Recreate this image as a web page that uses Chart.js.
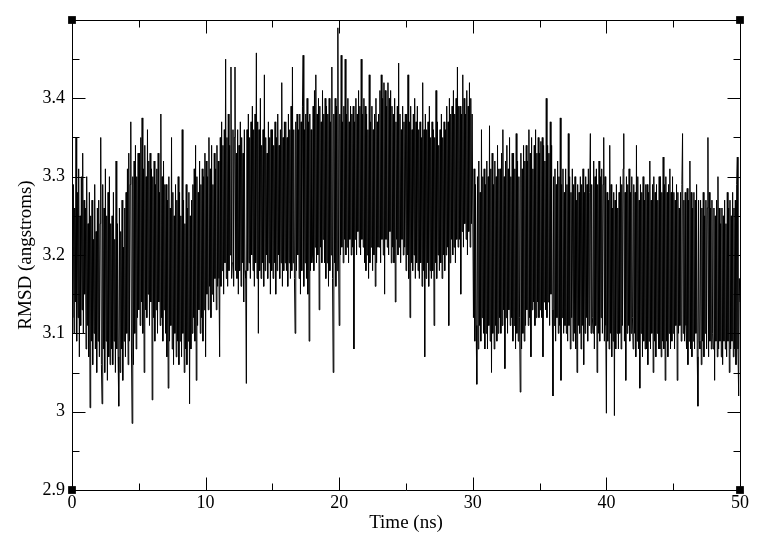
<!DOCTYPE html>
<html><head><meta charset="utf-8">
<script src="https://cdn.jsdelivr.net/npm/chart.js@4"></script>
<style>html,body{margin:0;padding:0;background:#fff}canvas{display:block}</style>
</head><body>
<canvas id="c" width="767" height="545"></canvas>
<script>
const startTime = 0;
const timeStep = 0.05;
const rmsd = [
3.21,3.12,3.29,3.10,3.26,3.14,3.35,3.09,3.28,3.12,3.31,3.07,3.25,3.11,3.30,3.13,3.33,3.10,3.27,3.15,
3.26,3.08,3.30,3.11,3.24,3.07,3.28,3.005,3.25,3.09,3.27,3.06,3.22,3.10,3.29,3.08,3.23,3.05,3.26,3.09,
3.27,3.07,3.24,3.35,3.06,3.01,3.29,3.08,3.26,3.05,3.31,3.09,3.25,3.04,3.28,3.07,3.30,3.06,3.24,3.08,
3.25,3.06,3.28,3.09,3.22,3.05,3.32,3.08,3.24,3.07,3.007,3.26,3.05,3.23,3.08,3.27,3.04,3.21,3.09,3.26,
3.07,3.28,3.10,3.31,3.06,3.33,3.09,3.29,3.37,3.08,2.985,3.30,3.06,3.32,3.10,3.34,3.08,3.30,3.12,3.33,
3.13,3.33,3.11,3.35,3.14,3.375,3.10,3.31,3.05,3.34,3.13,3.30,3.12,3.36,3.15,3.32,3.11,3.33,3.14,3.31,
3.015,3.30,3.12,3.32,3.09,3.29,3.13,3.31,3.10,3.33,3.14,3.28,3.11,3.38,3.12,3.30,3.09,3.32,3.13,3.29,
3.10,3.29,3.07,3.27,3.03,3.30,3.09,3.26,3.11,3.35,3.08,3.28,3.06,3.25,3.10,3.29,3.07,3.27,3.09,3.30,
3.06,3.28,3.09,3.25,3.07,3.36,3.10,3.27,3.05,3.24,3.08,3.29,3.06,3.26,3.09,3.28,3.01,3.25,3.08,3.27,
3.10,3.29,3.12,3.31,3.09,3.34,3.04,3.30,3.11,3.28,3.13,3.32,3.10,3.29,3.12,3.31,3.09,3.30,3.13,3.33,
3.07,3.32,3.15,3.30,3.13,3.35,3.16,3.31,3.12,3.34,3.15,3.29,3.14,3.33,3.17,3.31,3.13,3.34,3.16,3.32,
3.17,3.07,3.35,3.16,3.37,3.18,3.34,3.15,3.36,3.19,3.45,3.17,3.35,3.16,3.38,3.18,3.34,3.20,3.44,3.17,
3.19,3.36,3.16,3.35,3.44,3.18,3.33,3.17,3.36,3.15,3.34,3.18,3.37,3.16,3.35,3.19,3.33,3.14,3.36,3.18,
3.17,3.036,3.36,3.18,3.38,3.19,3.35,3.17,3.37,3.20,3.39,3.18,3.36,3.16,3.38,3.19,3.458,3.17,3.37,3.10,
3.36,3.18,3.40,3.17,3.34,3.19,3.36,3.16,3.43,3.18,3.35,3.20,3.33,3.17,3.37,3.19,3.35,3.15,3.36,3.18,
3.36,3.17,3.34,3.19,3.37,3.15,3.35,3.18,3.38,3.20,3.34,3.17,3.36,3.19,3.42,3.16,3.35,3.18,3.37,3.19,
3.37,3.18,3.35,3.16,3.38,3.19,3.36,3.17,3.39,3.18,3.44,3.19,3.36,3.17,3.10,3.37,3.18,3.38,3.20,3.36,
3.17,3.38,3.15,3.37,3.18,3.39,3.455,3.16,3.36,3.19,3.38,3.17,3.40,3.15,3.37,3.09,3.38,3.18,3.36,3.19,
3.20,3.39,3.18,3.41,3.21,3.43,3.19,3.38,3.20,3.40,3.13,3.39,3.21,3.37,3.19,3.41,3.22,3.38,3.19,3.40,
3.17,3.39,3.19,3.38,3.16,3.40,3.18,3.37,3.20,3.44,3.17,3.05,3.38,3.19,3.40,3.16,3.39,3.18,3.49,3.20,
3.11,3.38,3.20,3.455,3.21,3.37,3.19,3.39,3.22,3.45,3.20,3.38,3.21,3.40,3.19,3.37,3.22,3.39,3.20,3.38,
3.21,3.39,3.08,3.37,3.22,3.40,3.20,3.38,3.23,3.41,3.21,3.39,3.20,3.45,3.22,3.38,3.21,3.40,3.19,3.39,
3.18,3.38,3.20,3.36,3.17,3.43,3.19,3.37,3.21,3.39,3.18,3.36,3.20,3.38,3.16,3.40,3.19,3.37,3.21,3.38,
3.21,3.41,3.19,3.43,3.22,3.40,3.20,3.42,3.15,3.41,3.22,3.39,3.21,3.42,3.20,3.40,3.23,3.41,3.19,3.39,
3.21,3.38,3.19,3.40,3.14,3.37,3.22,3.39,3.20,3.445,3.21,3.38,3.19,3.36,3.22,3.39,3.20,3.37,3.21,3.38,
3.18,3.38,3.20,3.43,3.17,3.37,3.12,3.39,3.19,3.36,3.18,3.38,3.20,3.40,3.17,3.37,3.19,3.39,3.18,3.36,
3.17,3.37,3.19,3.35,3.16,3.42,3.18,3.36,3.07,3.38,3.17,3.36,3.19,3.37,3.16,3.39,3.18,3.35,3.17,3.37,
3.18,3.36,3.11,3.35,3.19,3.41,3.17,3.37,3.20,3.34,3.18,3.36,3.19,3.38,3.17,3.35,3.20,3.37,3.18,3.36,
3.20,3.39,3.21,3.37,3.11,3.40,3.19,3.38,3.22,3.39,3.20,3.41,3.21,3.38,3.19,3.40,3.22,3.44,3.21,3.39,
3.22,3.39,3.15,3.38,3.23,3.43,3.21,3.40,3.24,3.38,3.22,3.41,3.20,3.39,3.23,3.42,3.21,3.40,3.24,3.38,
3.38,3.12,3.31,3.09,3.29,3.11,3.035,3.30,3.08,3.32,3.11,3.28,3.09,3.36,3.12,3.30,3.10,3.31,3.08,3.29,
3.10,3.32,3.08,3.30,3.11,3.365,3.09,3.31,3.05,3.33,3.10,3.29,3.08,3.32,3.11,3.30,3.09,3.34,3.10,3.31,
3.12,3.31,3.10,3.33,3.11,3.36,3.13,3.30,3.055,3.32,3.12,3.34,3.10,3.31,3.13,3.35,3.11,3.30,3.12,3.33,
3.09,3.33,3.11,3.31,3.08,3.355,3.10,3.32,3.09,3.30,3.12,3.025,3.33,3.08,3.31,3.10,3.34,3.09,3.32,3.11,
3.34,3.13,3.32,3.11,3.36,3.12,3.33,3.07,3.35,3.13,3.31,3.14,3.34,3.11,3.36,3.12,3.33,3.14,3.35,3.12,
3.33,3.13,3.345,3.12,3.35,3.07,3.34,3.14,3.32,3.13,3.40,3.12,3.34,3.14,3.33,3.11,3.37,3.15,3.34,3.13,
3.02,3.30,3.11,3.31,3.09,3.29,3.12,3.32,3.10,3.30,3.11,3.375,3.04,3.29,3.12,3.31,3.10,3.28,3.11,3.31,
3.10,3.29,3.09,3.355,3.11,3.30,3.08,3.28,3.12,3.31,3.09,3.29,3.10,3.30,3.08,3.27,3.05,3.29,3.11,3.28,
3.10,3.30,3.08,3.29,3.11,3.31,3.06,3.28,3.10,3.30,3.12,3.29,3.09,3.31,3.11,3.28,3.355,3.10,3.29,3.12,
3.10,3.32,3.08,3.30,3.11,3.31,3.05,3.29,3.10,3.32,3.09,3.30,3.12,3.31,3.10,3.29,3.35,3.09,3.30,3.11,
2.998,3.28,3.09,3.27,3.08,3.34,3.10,3.29,3.07,3.26,3.09,3.28,2.995,3.27,3.08,3.29,3.10,3.26,3.08,3.28,
3.10,3.30,3.08,3.29,3.11,3.31,3.355,3.09,3.28,3.04,3.30,3.10,3.29,3.11,3.31,3.09,3.28,3.10,3.30,3.12,
3.08,3.29,3.10,3.28,3.07,3.34,3.09,3.30,3.08,3.27,3.03,3.29,3.10,3.28,3.07,3.30,3.09,3.27,3.08,3.29,
3.08,3.29,3.06,3.28,3.09,3.32,3.08,3.27,3.10,3.29,3.05,3.30,3.09,3.28,3.07,3.29,3.10,3.27,3.08,3.30,
3.08,3.30,3.07,3.28,3.09,3.325,3.08,3.29,3.04,3.30,3.09,3.28,3.07,3.29,3.10,3.31,3.08,3.28,3.09,3.30,
3.10,3.28,3.08,3.27,3.11,3.29,3.04,3.28,3.10,3.26,3.11,3.28,3.09,3.29,3.355,3.10,3.27,3.09,3.28,3.11,
3.08,3.285,3.06,3.27,3.09,3.32,3.08,3.28,3.07,3.26,3.09,3.28,3.08,3.27,3.10,3.29,3.07,3.007,3.27,3.09,
3.08,3.27,3.06,3.26,3.09,3.28,3.07,3.25,3.10,3.27,3.08,3.26,3.35,3.07,3.28,3.09,3.26,3.08,3.27,3.10,
3.08,3.26,3.04,3.25,3.09,3.27,3.07,3.30,3.08,3.26,3.09,3.24,3.07,3.26,3.06,3.25,3.09,3.27,3.08,3.24,
3.07,3.28,3.09,3.26,3.05,3.27,3.08,3.25,3.09,3.28,3.07,3.26,3.08,3.27,3.06,3.29,3.325,3.08,3.02,3.17,
3.14
];
const xTickValues = [0, 10, 20, 30, 40, 50];
const xTickLabels = ['0', '10', '20', '30', '40', '50'];
const xMinorTicks = [5, 15, 25, 35, 45];
const yTickValues = [2.9, 3.0, 3.1, 3.2, 3.3, 3.4, 3.5];
const yTickLabels = ['2.9', '3', '3.1', '3.2', '3.3', '3.4', ''];
const yMinorTicks = [2.95, 3.05, 3.15, 3.25, 3.35, 3.45];
const cornerX = [0, 0, 50, 50];
const cornerY = [2.9, 3.5, 2.9, 3.5];
const xTitle = 'Time (ns)';
const yTitle = 'RMSD (angstroms)';

const serif = "'Liberation Serif', 'DejaVu Serif', serif";

const frameTicks = {
  id: 'frameTicks',
  beforeDraw(chart) {
    const ctx = chart.ctx;
    ctx.save();
    ctx.fillStyle = '#fff';
    ctx.fillRect(0, 0, chart.width, chart.height);
    ctx.restore();
  },
  beforeDatasetsDraw(chart) {
    const {ctx, chartArea: a, scales: {x, y}} = chart;
    const L = Math.round(a.left) + 0.5, R = Math.round(a.right) + 0.5;
    const T = Math.round(a.top) + 0.5, B = Math.round(a.bottom) + 0.5;
    ctx.save();
    ctx.strokeStyle = '#000';
    ctx.lineWidth = 1;
    ctx.beginPath();
    ctx.rect(L, T, R - L, B - T);
    const xt = (v, len) => {
      const p = Math.round(x.getPixelForValue(v)) + 0.5;
      ctx.moveTo(p, B); ctx.lineTo(p, B - len);
      ctx.moveTo(p, T); ctx.lineTo(p, T + len);
    };
    const yt = (v, len) => {
      const p = Math.round(y.getPixelForValue(v)) + 0.5;
      ctx.moveTo(L, p); ctx.lineTo(L + len, p);
      ctx.moveTo(R, p); ctx.lineTo(R - len, p);
    };
    xTickValues.forEach(v => xt(v, 13));
    xMinorTicks.forEach(v => xt(v, 7));
    yTickValues.forEach(v => yt(v, 13));
    yMinorTicks.forEach(v => yt(v, 7));
    ctx.stroke();
    ctx.restore();
  }
};

new Chart(document.getElementById('c'), {
  type: 'line',
  data: {
    datasets: [
      {
        type: 'scatter',
        data: cornerX.map((v, i) => ({x: v, y: cornerY[i]})),
        pointStyle: 'rect',
        pointRadius: 5.5,
        pointBackgroundColor: '#000',
        pointBorderColor: '#000',
        pointBorderWidth: 0,
        showLine: false,
        clip: false
      },
      {
        data: rmsd.map((v, i) => ({x: startTime + i * timeStep, y: v})),
        borderColor: '#000',
        borderWidth: 1,
        pointRadius: 0,
        tension: 0,
        fill: false
      }
    ]
  },
  options: {
    responsive: false,
    animation: false,
    devicePixelRatio: 1,
    layout: {padding: {top: 20, right: 27, left: 0, bottom: 0}},
    plugins: {legend: {display: false}, tooltip: {enabled: false}},
    events: [],
    scales: {
      x: {
        type: 'linear',
        position: 'bottom',
        min: 0, max: 50,
        grid: {display: false, drawTicks: false},
        border: {display: false},
        afterBuildTicks: s => { s.ticks = xTickValues.map(v => ({value: v})); },
        afterFit: s => { s.height = 55; },
        ticks: {
          autoSkip: false, maxRotation: 0, padding: 2,
          color: '#000',
          font: {family: serif, size: 18},
          callback: v => xTickLabels[xTickValues.indexOf(v)]
        },
        title: {
          display: true, text: xTitle, color: '#000',
          font: {family: serif, size: 19},
          padding: {top: 0, bottom: 11}
        }
      },
      y: {
        type: 'linear',
        min: 2.9, max: 3.5,
        grid: {display: false, drawTicks: false},
        border: {display: false},
        afterBuildTicks: s => { s.ticks = yTickValues.map(v => ({value: v})); },
        afterFit: s => { s.width = 72; },
        ticks: {
          autoSkip: false, padding: 7,
          color: '#000',
          font: {family: serif, size: 18},
          callback: v => yTickLabels[yTickValues.indexOf(v)]
        },
        title: {
          display: true, text: yTitle, color: '#000',
          font: {family: serif, size: 19},
          padding: {top: 15, bottom: 0}
        }
      }
    }
  },
  plugins: [frameTicks]
});
</script>
</body></html>
